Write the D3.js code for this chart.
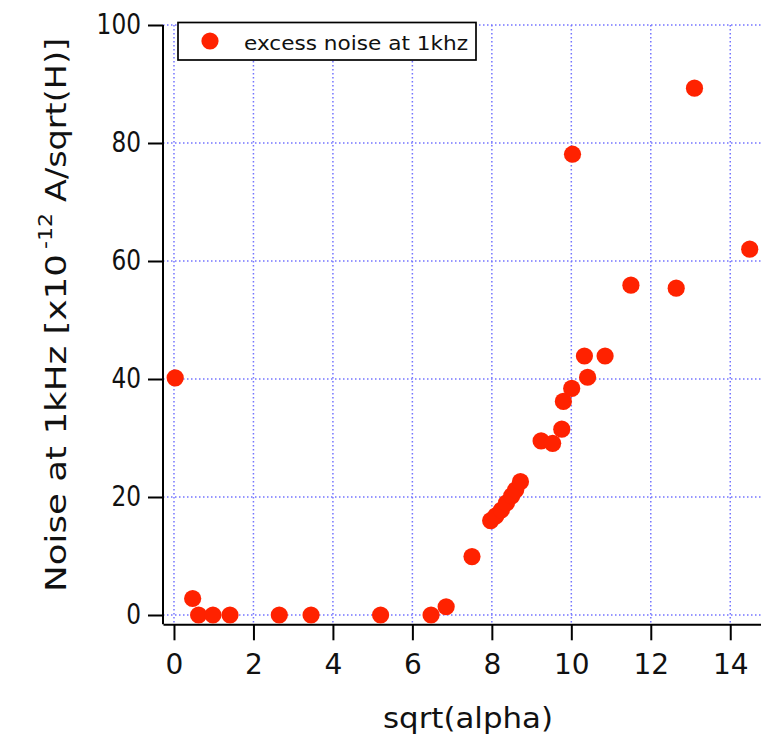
<!DOCTYPE html>
<html>
<head>
<meta charset="utf-8">
<script src="https://cdn.jsdelivr.net/npm/d3@7"></script>
<style>
  html, body { margin: 0; padding: 0; background: #fff; }
  svg { display: block; }
  text { font-family: "DejaVu Sans", Verdana, sans-serif; fill: #111; }
</style>
</head>
<body>
<div id="chart"></div>
<script>
// Excess noise at 1 kHz versus sqrt(alpha)
const sqrtAlpha = [0.03, 0.47, 0.62, 0.98, 1.41, 2.65, 3.45, 5.2, 6.47, 6.85, 7.5,
  7.97, 8.1, 8.24, 8.37, 8.5, 8.6, 8.72, 9.24, 9.53, 9.76, 9.8, 10.01, 10.03,
  10.33, 10.41, 10.85, 11.5, 12.64, 13.1, 14.49];
const noise = [40.2, 2.8, 0, 0, 0, 0, 0, 0, 0, 1.4, 9.9,
  16.0, 16.8, 17.8, 19.0, 20.2, 21.2, 22.6, 29.5, 29.1, 31.5, 36.2, 38.4, 78.1,
  43.9, 40.3, 43.9, 55.9, 55.4, 89.3, 62.0];
const xTicks = [0, 2, 4, 6, 8, 10, 12, 14];
const yTicks = [0, 20, 40, 60, 80, 100];
const seriesName = "excess noise at 1khz";

const W = 761, H = 739;
const plotL = 163, plotR = 761, plotT = 25, plotB = 624.3;

const svg = d3.select("#chart").append("svg")
  .attr("width", W).attr("height", H);

const x = d3.scaleLinear().domain([-0.2764, 14.774]).range([plotL, plotR]);
const y = d3.scaleLinear().domain([-1.576, 100]).range([plotB, plotT]);

// dotted grid
const grid = svg.append("g")
  .attr("stroke", "#7474ff")
  .attr("stroke-width", 1.5)
  .attr("stroke-dasharray", "1.5,2.5");
grid.selectAll("line.v").data(xTicks).join("line")
  .attr("class", "v")
  .attr("x1", d => x(d)).attr("x2", d => x(d))
  .attr("y1", plotT).attr("y2", plotB);
grid.selectAll("line.h").data(yTicks).join("line")
  .attr("class", "h")
  .attr("x1", plotL).attr("x2", plotR)
  .attr("y1", d => y(d)).attr("y2", d => y(d));

// axes
const xAxis = d3.axisBottom(x).tickValues(xTicks).tickSize(16).tickSizeOuter(0).tickPadding(14);
const yAxis = d3.axisLeft(y).tickValues(yTicks).tickSize(15).tickSizeOuter(0).tickPadding(7);

const gx = svg.append("g").attr("transform", `translate(0,${plotB})`).call(xAxis);
const gy = svg.append("g").attr("transform", `translate(${plotL},0)`).call(yAxis);
gy.select(".domain").attr("d", `M0,${plotT}V${plotB}`);
[gx, gy].forEach(g => {
  g.select(".domain").attr("stroke", "#000").attr("stroke-width", 2);
  g.selectAll(".tick line").attr("stroke", "#000").attr("stroke-width", 2);
  g.selectAll(".tick text")
    .attr("font-family", "DejaVu Sans, sans-serif")
    .attr("font-size", 28)
    .attr("fill", "#111");
});
gy.selectAll(".tick text").attr("textLength", d => String(d).length * 14.8)
  .attr("lengthAdjust", "spacingAndGlyphs");

// points
svg.append("g").selectAll("circle")
  .data(sqrtAlpha.map((v, i) => [v, noise[i]]))
  .join("circle")
  .attr("cx", d => x(d[0]))
  .attr("cy", d => y(d[1]))
  .attr("r", 8.6)
  .attr("fill", "#ff2200");

// legend
const lg = svg.append("g");
lg.append("rect")
  .attr("x", 178).attr("y", 22.5).attr("width", 298).attr("height", 37.5)
  .attr("fill", "#fff").attr("stroke", "#000").attr("stroke-width", 1.7);
lg.append("circle").attr("cx", 210).attr("cy", 41).attr("r", 8.6).attr("fill", "#ff2200");
lg.append("text").attr("x", 244).attr("y", 49.5)
  .attr("font-size", 20).attr("fill", "#222")
  .attr("textLength", 224).attr("lengthAdjust", "spacingAndGlyphs")
  .text(seriesName);

// axis titles
svg.append("text")
  .attr("x", 383).attr("y", 728)
  .attr("font-size", 29)
  .attr("textLength", 170).attr("lengthAdjust", "spacingAndGlyphs")
  .text("sqrt(alpha)");

// rotated y title, laid out along its own baseline
const yt = svg.append("g").attr("transform", "translate(66,0) rotate(-90)");
yt.append("text")
  .attr("x", -592).attr("y", 0)
  .attr("font-size", 29)
  .attr("textLength", 338).attr("lengthAdjust", "spacingAndGlyphs")
  .text("Noise at 1kHz [x10");
yt.append("text")
  .attr("x", -249).attr("y", -14)
  .attr("font-size", 20)
  .attr("textLength", 36).attr("lengthAdjust", "spacingAndGlyphs")
  .text("-12");
yt.append("text")
  .attr("x", -202).attr("y", 0)
  .attr("font-size", 29)
  .attr("textLength", 164).attr("lengthAdjust", "spacingAndGlyphs")
  .text("A/sqrt(H)]");
</script>
</body>
</html>
